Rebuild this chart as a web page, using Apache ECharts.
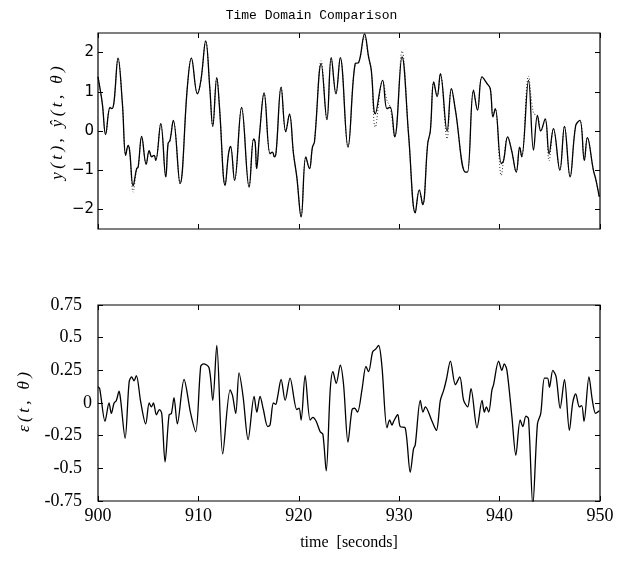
<!DOCTYPE html>
<html>
<head>
<meta charset="utf-8">
<script src="https://cdn.jsdelivr.net/npm/echarts@6/dist/echarts.min.js"></script>
<style>html,body{margin:0;padding:0;background:#fff}#c{width:623px;height:561px}</style>
</head>
<body>
<div id="c"></div>
<script>
// ---- data ----
const titleText = 'Time Domain Comparison';
const topYName = 'y(t), \u0177(t, \u03B8)';
const bottomYName = '\u03B5(t, \u03B8)';
const xName = 'time  [seconds]';
const topYTicks = [-2, -1, 0, 1, 2];

const yTime = [900, 900.43, 900.76, 901.2, 901.4, 901.6, 902.0, 902.43, 902.76, 903.0, 903.15, 903.5, 903.85, 904.0, 904.35, 904.8, 905.1, 905.35, 905.58, 905.75, 906.25, 906.75, 906.98, 907.17, 907.5, 908.17, 908.9, 909.3, 909.9, 910.25, 910.73, 911.13, 911.43, 911.83, 912.1, 912.66, 913.0, 913.2, 913.6, 914.3, 915.05, 915.5, 915.65, 915.8, 916.1, 916.54, 917.14, 917.37, 917.57, 917.74, 918.24, 918.7, 919.07, 919.47, 919.8, 920.23, 920.7, 921.06, 921.36, 921.56, 922.23, 922.8, 923.23, 923.7, 924.13, 924.9, 925.62, 925.95, 926.55, 926.95, 927.22, 927.62, 928.35, 928.78, 929.1, 929.55, 930.28, 930.95, 931.6, 932.0, 932.34, 932.84, 933.1, 933.44, 933.78, 934.1, 934.77, 935.2, 935.6, 936.6, 936.8, 937.4, 937.8, 938.25, 938.75, 939.07, 939.34, 939.57, 940.17, 940.4, 940.8, 941.2, 941.66, 942.0, 942.2, 942.88, 943.38, 943.77, 944.1, 944.54, 944.93, 945.36, 946.0, 946.46, 947.02, 947.58, 948.0, 948.44, 948.74, 949.34, 949.57, 949.93];
const yValues = [1.38, 0.7, -0.09, 0.6, 0.57, 0.75, 1.86, 0.7, -0.62, -0.37, -0.5, -1.4, -0.96, -0.92, -0.14, -0.85, -0.5, -0.66, -0.62, -0.75, 0.19, -1.17, -0.32, -0.24, 0.27, -1.34, 1.12, 1.86, 0.95, 1.29, 2.3, 1.12, 0.12, 1.36, 0.61, -1.39, -0.58, -0.39, -1.26, 0.6, -1.43, -0.2, -0.28, -0.96, -0.05, 0.97, -0.58, -0.54, -0.66, -0.54, 1.12, -0.02, 0.43, -0.58, -1.17, -2.19, -0.66, -0.96, -0.41, -0.28, 1.72, 0.29, 1.87, 0.95, 1.87, -0.41, 1.72, 1.74, 2.48, 1.89, 1.55, 0.44, 1.29, 0.57, 0.61, -0.15, 1.89, -0.15, -2.09, -1.5, -1.88, -0.32, 0.0, 1.25, 0.88, 1.46, 0.0, 1.08, 0.53, -1.05, -1.05, 1.04, 0.53, 1.38, 1.21, 1.08, 0.36, 0.57, -0.83, -0.75, -0.15, -0.5, -1.05, -0.41, -0.66, 1.29, -0.49, 0.4, 0.0, 0.31, -0.58, 0.06, -1.0, 0.12, -1.17, 0.14, 0.27, -0.75, -0.17, -1.0, -1.22, -1.68];
const yHatValues = [1.38, 0.7, -0.09, 0.6, 0.57, 0.75, 1.86, 0.7, -0.62, -0.37, -0.5, -1.56, -0.96, -0.92, -0.14, -0.85, -0.5, -0.66, -0.62, -0.75, 0.19, -1.17, -0.32, -0.24, 0.27, -1.34, 1.12, 1.86, 0.95, 1.29, 2.3, 1.12, 0.12, 1.36, 0.61, -1.39, -0.58, -0.39, -1.26, 0.6, -1.43, -0.2, -0.28, -0.96, -0.05, 0.97, -0.58, -0.54, -0.66, -0.54, 1.12, -0.02, 0.43, -0.58, -1.17, -2.19, -0.66, -0.96, -0.41, -0.28, 1.79, 0.29, 1.87, 0.95, 1.87, -0.41, 1.72, 1.74, 2.4, 1.89, 1.55, 0.1, 1.29, 0.78, 0.61, -0.15, 2.04, -0.15, -2.09, -1.5, -1.88, -0.32, 0.0, 1.25, 0.88, 1.46, -0.2, 1.08, 0.53, -1.05, -1.05, 1.04, 0.53, 1.38, 1.21, 1.08, 0.36, 0.57, -1.13, -0.75, -0.15, -0.5, -1.05, -0.41, -0.66, 1.4, 0.45, 0.4, 0.0, 0.31, -0.76, 0.06, -1.0, 0.12, -1.17, 0.14, 0.27, -0.75, -0.17, -1.0, -1.22, -1.68];

const errTime = [900, 900.17, 900.7, 901.1, 901.33, 901.6, 901.83, 902.1, 902.26, 902.7, 903.1, 903.35, 903.58, 903.82, 904.25, 904.75, 905.1, 905.32, 905.52, 905.82, 906.12, 906.35, 906.68, 907.08, 907.31, 907.57, 907.9, 908.57, 909.23, 909.73, 910.23, 910.5, 911.06, 911.43, 911.83, 912.42, 913.16, 913.39, 913.72, 914.05, 914.45, 914.95, 915.55, 915.82, 916.14, 916.47, 916.9, 917.13, 917.47, 917.7, 917.87, 918.24, 918.64, 919.13, 919.8, 920.03, 920.23, 920.63, 921.13, 921.4, 921.73, 922.13, 922.4, 922.73, 923.13, 923.4, 923.73, 924.13, 924.46, 924.9, 925.3, 925.56, 925.85, 926.29, 926.69, 926.95, 927.35, 927.62, 927.95, 928.28, 928.78, 929.05, 929.28, 929.45, 929.85, 930.1, 930.6, 931.1, 931.43, 931.6, 932.1, 932.37, 932.6, 933.27, 933.7, 934.1, 934.44, 934.7, 935.1, 935.6, 936.03, 936.42, 936.82, 937.15, 937.75, 938.25, 938.48, 938.68, 938.91, 939.24, 939.4, 939.9, 940.23, 940.46, 940.73, 941.22, 941.62, 942.05, 942.32, 942.62, 942.88, 943.31, 943.77, 944.1, 944.47, 944.77, 944.97, 945.3, 945.63, 946.03, 946.46, 946.95, 947.28, 947.58, 947.95, 948.18, 948.41, 948.9, 949.24, 949.57, 949.93];
const errValues = [0.125, 0.11, -0.14, 0.0, -0.08, 0.0, 0.02, 0.09, 0.02, -0.27, 0.16, 0.2, 0.17, 0.21, 0.01, -0.16, 0.0, -0.03, 0.0, -0.09, -0.05, -0.08, -0.45, -0.09, -0.08, 0.04, -0.16, 0.18, -0.08, -0.22, 0.28, 0.3, 0.27, 0.02, 0.44, -0.39, 0.1, 0.06, -0.08, 0.23, 0.05, -0.28, 0.05, -0.07, 0.05, -0.05, -0.18, -0.17, 0.0, -0.01, 0.04, 0.18, 0.02, 0.19, -0.05, -0.04, -0.13, 0.21, -0.13, -0.11, -0.14, -0.22, -0.24, -0.52, 0.1, 0.24, 0.15, 0.29, 0.14, -0.3, -0.05, -0.04, -0.07, 0.1, 0.28, 0.24, 0.39, 0.41, 0.44, 0.28, -0.19, -0.13, -0.17, -0.14, -0.09, -0.18, -0.19, -0.53, -0.35, -0.32, 0.02, -0.07, -0.03, -0.14, -0.21, 0.02, 0.1, 0.18, 0.32, 0.14, 0.2, 0.02, -0.03, 0.11, -0.19, 0.02, -0.07, -0.03, -0.07, 0.1, 0.14, 0.32, 0.25, 0.3, 0.25, -0.1, -0.4, -0.13, -0.18, -0.1, -0.12, -0.78, -0.16, -0.08, 0.19, 0.19, 0.12, 0.25, 0.2, -0.04, 0.18, -0.21, 0.0, 0.07, -0.03, -0.02, -0.14, 0.2, 0.02, -0.08, -0.06];

// ---- chart ----
const pair = (ts, vs) => ts.map((t, i) => [t, vs[i]]);
const serif = 'Liberation Serif';
const spaced = s => Array.from(s).join('\u2009');
const tickStyle = { show: true, inside: true, length: 5, lineStyle: { color: '#000', width: 1 } };
const noLine = { show: false, onZero: false };

function xAx(grid, pos, labels) {
  return {
    type: 'value', gridIndex: grid, position: pos, min: 900, max: 950, interval: 10,
    axisLine: noLine, splitLine: { show: false },
    axisTick: tickStyle,
    axisLabel: labels ? { show: true, color: '#000', fontFamily: serif, fontSize: 18, margin: 6 } : { show: false },
    name: labels ? xName : '', nameLocation: 'middle', nameGap: 34,
    nameTextStyle: { color: '#000', fontFamily: serif, fontSize: 16 }
  };
}
const minus = v => (v < 0 ? '\u2212' + Math.abs(v) : String(v));
const option = {
  animation: false,
  backgroundColor: '#fff',
  title: {
    text: titleText, left: 'center', top: 4,
    textStyle: { fontFamily: 'Liberation Mono', fontSize: 13, fontWeight: 'normal', color: '#000' }
  },
  grid: [
    { left: 98, width: 502, top: 33, height: 196, show: true, borderColor: '#000', borderWidth: 1.2, backgroundColor: 'transparent' },
    { left: 98, width: 502, top: 305, height: 196, show: true, borderColor: '#000', borderWidth: 1.2, backgroundColor: 'transparent' }
  ],
  xAxis: [xAx(0, 'bottom', false), xAx(0, 'top', false), xAx(1, 'bottom', true), xAx(1, 'top', false)],
  yAxis: [
    {
      type: 'value', gridIndex: 0, position: 'left', min: -2.5, max: 2.5,
      axisLine: noLine, splitLine: { show: false },
      axisTick: Object.assign({ customValues: topYTicks }, tickStyle),
      axisLabel: { customValues: topYTicks, formatter: minus, color: '#000', fontFamily: 'DejaVu Sans', fontSize: 15, margin: 4 }
    },
    {
      type: 'value', gridIndex: 0, position: 'right', min: -2.5, max: 2.5,
      axisLine: noLine, splitLine: { show: false },
      axisTick: Object.assign({ customValues: topYTicks }, tickStyle),
      axisLabel: { show: false }
    },
    {
      type: 'value', gridIndex: 1, position: 'left', min: -0.75, max: 0.75, interval: 0.25,
      axisLine: noLine, splitLine: { show: false },
      axisTick: tickStyle,
      axisLabel: {
        formatter: v => (v === 0 ? '{z|0}' : '{n|' + v + '}'),
        color: '#000', fontFamily: serif, fontSize: 18, margin: 6,
        rich: {
          z: { fontFamily: serif, fontSize: 18, color: '#000' },
          n: { fontFamily: serif, fontSize: 18, color: '#000', padding: [0, 10, 0, 0] }
        }
      }
    },
    {
      type: 'value', gridIndex: 1, position: 'right', min: -0.75, max: 0.75, interval: 0.25,
      axisLine: noLine, splitLine: { show: false },
      axisTick: tickStyle, axisLabel: { show: false }
    }
  ],
  graphic: [
    {
      type: 'text', x: 58, y: 123, rotation: Math.PI / 2,
      style: { text: spaced(topYName), align: 'center', verticalAlign: 'middle', fill: '#000', font: 'italic 17px "Liberation Serif"' }
    },
    {
      type: 'text', x: 25, y: 402, rotation: Math.PI / 2,
      style: { text: spaced(bottomYName), align: 'center', verticalAlign: 'middle', fill: '#000', font: 'italic 17px "Liberation Serif"' }
    }
  ],
  series: [
    {
      type: 'line', xAxisIndex: 0, yAxisIndex: 0, data: pair(yTime, yHatValues),
      showSymbol: false, smooth: 0.4, lineStyle: { color: '#333', width: 1, type: [1, 2] }, z: 2
    },
    {
      type: 'line', xAxisIndex: 0, yAxisIndex: 0, data: pair(yTime, yValues),
      showSymbol: false, smooth: 0.4, lineStyle: { color: '#000', width: 1.3 }, z: 3
    },
    {
      type: 'line', xAxisIndex: 2, yAxisIndex: 2, data: pair(errTime, errValues),
      showSymbol: false, smooth: 0.3, lineStyle: { color: '#000', width: 1.3 }, z: 3
    }
  ]
};
const chart = echarts.init(document.getElementById('c'), null, { renderer: 'canvas' });
chart.setOption(option);
</script>
</body>
</html>
